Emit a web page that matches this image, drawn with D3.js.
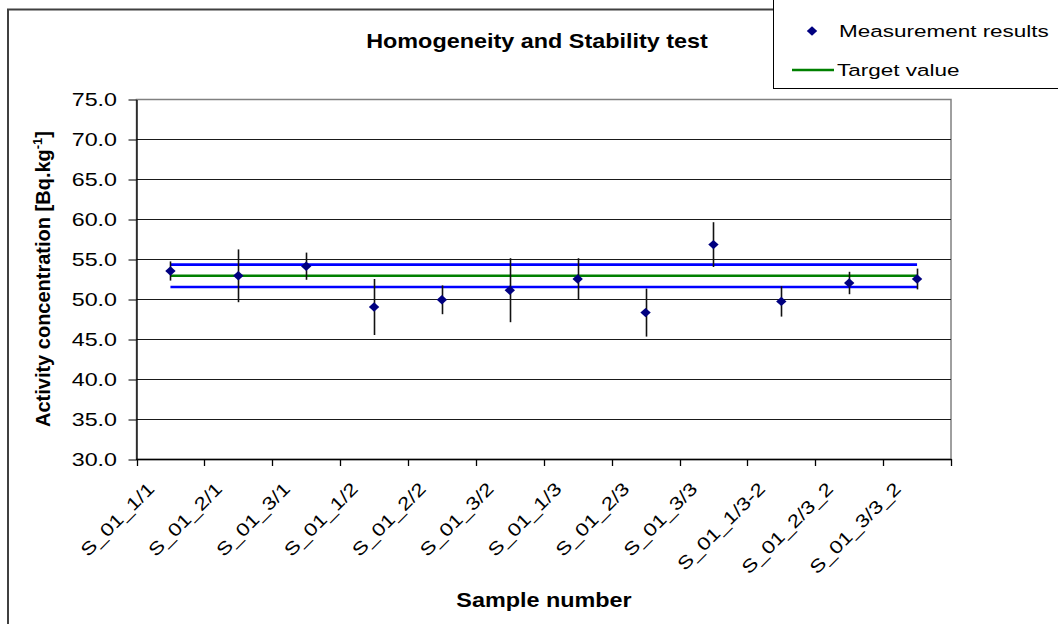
<!DOCTYPE html>
<html>
<head>
<meta charset="utf-8">
<script src="https://cdn.jsdelivr.net/npm/d3@7"></script>
<style>
  body { margin: 0; background: #fff; }
  text { font-family: "Liberation Sans", Arial, sans-serif; fill: #000; }
</style>
</head>
<body>
<div id="chart"></div>
<script>
//Datos del gráfico
const samples = ['S_01_1/1','S_01_2/1','S_01_3/1','S_01_1/2','S_01_2/2','S_01_3/2',
    'S_01_1/3','S_01_2/3','S_01_3/3','S_01_1/3-2','S_01_2/3_2','S_01_3/3_2'];
const measured = [53.5, 52.9, 54.1, 49.0, 49.9, 51.1, 52.5, 48.3, 56.8, 49.7, 52.0, 52.5];
const uncertainty = [1.2, 3.3, 1.7, 3.5, 1.8, 4.0, 2.6, 3.0, 2.8, 1.9, 1.4, 1.3];
const targetValue = 52.9;
const lowerLimit = 51.5;
const upperLimit = 54.3;
const yTicks = [30, 35, 40, 45, 50, 55, 60, 65, 70, 75];

//Colores
const COLOR_MARKER = '#000080',
    COLOR_TARGET = '#008000',
    COLOR_LIMIT = '#0000FF',
    COLOR_FRAME = '#808080';

const W = 1058, H = 624;
const plot = {left: 136.5, right: 951, top: 99, bottom: 459};

let svg = d3.select('#chart').append('svg')
    .attr('width', W)
    .attr('height', H);

//Marco exterior
svg.append('rect')
    .attr('x', 8).attr('y', 9.5)
    .attr('width', 1100).attr('height', 700)
    .attr('fill', '#fff')
    .attr('stroke', '#404040')
    .attr('stroke-width', 2);

//Escalas
let x = d3.scaleBand()
    .domain(samples)
    .range([plot.left, plot.right])
    .padding(0);

let y = d3.scaleLinear()
    .domain([30, 75])
    .range([plot.bottom, plot.top]);

let cx = d => x(d) + x.bandwidth() / 2;

//Área del gráfico
svg.append('rect')
    .attr('x', plot.left).attr('y', plot.top + 0.5)
    .attr('width', plot.right - plot.left).attr('height', plot.bottom - plot.top)
    .attr('fill', '#fff')
    .attr('stroke', COLOR_FRAME)
    .attr('stroke-width', 1.5);

//Rejilla
svg.append('g')
    .selectAll('line')
    .data(yTicks.filter(d => d > 30 && d < 75))
    .enter().append('line')
    .attr('x1', plot.left).attr('x2', plot.right)
    .attr('y1', d => Math.round(y(d)) + 0.5).attr('y2', d => Math.round(y(d)) + 0.5)
    .attr('stroke', '#1a1a1a')
    .attr('stroke-width', 1);

//Eje Y
let yAxis = svg.append('g')
    .attr('transform', 'translate(' + plot.left + ',0.5)')
    .call(d3.axisLeft(y).tickValues(yTicks).tickSize(8).tickSizeOuter(0).tickFormat(d3.format('.1f')));

yAxis.select('.domain').attr('stroke', '#000').attr('stroke-width', 1.3);
yAxis.selectAll('.tick line').attr('stroke', '#000');
yAxis.selectAll('.tick text')
    .attr('x', 0)
    .attr('dy', '0.33em')
    .attr('transform', 'translate(-19.5,0) scale(1.33,1)')
    .style('font-size', '17.5px')
    .style('font-family', '"Liberation Sans", Arial, sans-serif')
    .attr('fill', '#000');

//Eje X
svg.append('line')
    .attr('x1', plot.left - 0.5).attr('x2', plot.right + 0.5)
    .attr('y1', plot.bottom + 0.5).attr('y2', plot.bottom + 0.5)
    .attr('stroke', '#000').attr('stroke-width', 1.3);

let xTickPos = samples.map(d => x(d)).concat([x.range()[1]]);
svg.append('g')
    .selectAll('line')
    .data(xTickPos)
    .enter().append('line')
    .attr('x1', d => Math.round(d) + 0.5).attr('x2', d => Math.round(d) + 0.5)
    .attr('y1', plot.bottom).attr('y2', plot.bottom + 7)
    .attr('stroke', '#000').attr('stroke-width', 1.3);

svg.append('g')
    .selectAll('text')
    .data(samples)
    .enter().append('text')
    .attr('transform', d => 'translate(' + (cx(d) - 15) + ',490) rotate(-45) scale(1.24,1)')
    .attr('text-anchor', 'end')
    .style('font-size', '18px')
    .text(d => d);

//Líneas de referencia
let refLines = [
    {v: upperLimit, c: COLOR_LIMIT},
    {v: lowerLimit, c: COLOR_LIMIT},
    {v: targetValue, c: COLOR_TARGET}
];
svg.append('g')
    .selectAll('line')
    .data(refLines)
    .enter().append('line')
    .attr('x1', cx(samples[0]))
    .attr('x2', cx(samples[samples.length - 1]))
    .attr('y1', d => y(d.v)).attr('y2', d => y(d.v))
    .attr('stroke', d => d.c)
    .attr('stroke-width', 2.6);

//Barras de error
svg.append('g')
    .selectAll('line')
    .data(samples)
    .enter().append('line')
    .attr('x1', d => Math.round(cx(d)) + 0.5).attr('x2', d => Math.round(cx(d)) + 0.5)
    .attr('y1', (d, i) => y(measured[i] + uncertainty[i]))
    .attr('y2', (d, i) => y(measured[i] - uncertainty[i]))
    .attr('stroke', '#111')
    .attr('stroke-width', 1.6);

//Puntos
const diamond = 'M0,-4.7L5.2,0L0,4.7L-5.2,0Z';
svg.append('g')
    .selectAll('path')
    .data(samples)
    .enter().append('path')
    .attr('d', diamond)
    .attr('transform', (d, i) => 'translate(' + cx(d) + ',' + y(measured[i]) + ')')
    .attr('fill', COLOR_MARKER);

//Títulos
svg.append('text')
    .attr('transform', 'translate(537,48) scale(1.17,1)')
    .attr('text-anchor', 'middle')
    .style('font-size', '20px')
    .style('font-weight', 'bold')
    .text('Homogeneity and Stability test');

svg.append('text')
    .attr('transform', 'translate(544,607) scale(1.17,1)')
    .attr('text-anchor', 'middle')
    .style('font-size', '20px')
    .style('font-weight', 'bold')
    .text('Sample number');

let yTitle = svg.append('text')
    .attr('transform', 'translate(50,' + ((plot.top + plot.bottom) / 2) + ') rotate(-90)')
    .attr('text-anchor', 'middle')
    .style('font-size', '20px')
    .style('font-weight', 'bold');
yTitle.append('tspan').text('Activity concentration [Bq.kg');
yTitle.append('tspan').attr('dy', -8).style('font-size', '13px').text('-1');
yTitle.append('tspan').attr('dy', 8).text(']');

//Leyenda
let legend = svg.append('g');
legend.append('rect')
    .attr('x', 773.5).attr('y', -2)
    .attr('width', 300).attr('height', 90.5)
    .attr('fill', '#fff')
    .attr('stroke', '#000')
    .attr('stroke-width', 1);

legend.append('path')
    .attr('d', diamond)
    .attr('transform', 'translate(812,31)')
    .attr('fill', COLOR_MARKER);
legend.append('text')
    .attr('transform', 'translate(839,37) scale(1.3,1)')
    .style('font-size', '17.3px')
    .text('Measurement results');

legend.append('line')
    .attr('x1', 792).attr('x2', 834)
    .attr('y1', 70).attr('y2', 70)
    .attr('stroke', COLOR_TARGET)
    .attr('stroke-width', 2.6);
legend.append('text')
    .attr('transform', 'translate(837,76) scale(1.3,1)')
    .style('font-size', '17.3px')
    .text('Target value');
</script>
</body>
</html>
